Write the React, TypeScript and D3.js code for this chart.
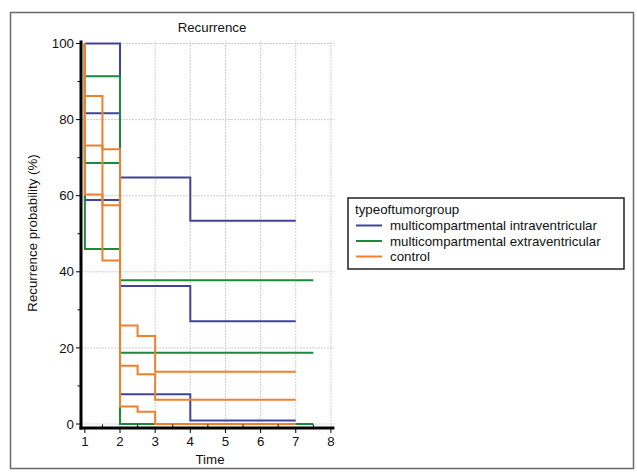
import React from "react";
import * as d3 from "d3";

// ---------- data ----------
const chartTitle = "Recurrence";
const xTitle = "Time";
const yTitle = "Recurrence probability (%)";
const legendTitle = "typeoftumorgroup";
const groupNames = [
  "multicompartmental intraventricular",
  "multicompartmental extraventricular",
  "control",
];
const groupColors = ["#42429c", "#1c8a3c", "#f0802c"];

const xTicks = [1, 2, 3, 4, 5, 6, 7, 8];
const xMinorTicks = [1.5, 2.5, 3.5, 4.5, 5.5, 6.5, 7.5];
const yTicks = [0, 20, 40, 60, 80, 100];
const yMinorTicks = [10, 30, 50, 70, 90];

const startValue = 100;

// multicompartmental intraventricular
const intraTimes = [1, 2, 4, 7];
const intraUpper = [100, 64.8, 53.4, 53.4];
const intraEst = [81.7, 36.3, 27, 27];
const intraLower = [58.9, 7.8, 0.9, 0.9];

// multicompartmental extraventricular
const extraTimes = [1, 2, 7.5];
const extraUpper = [91.4, 37.8, 37.8];
const extraEst = [68.6, 18.7, 18.7];
const extraLower = [46, 0, 0];

// control
const controlTimes = [1, 1.5, 2, 2.5, 3, 7];
const controlUpper = [86.2, 72.2, 25.9, 23.1, 13.7, 13.7];
const controlEst = [73.2, 57.5, 15.3, 13.1, 6.4, 6.4];
const controlLower = [60.3, 43, 4.6, 3.2, 0, 0];

const groups = [
  { times: intraTimes, curves: [intraUpper, intraEst, intraLower] },
  { times: extraTimes, curves: [extraUpper, extraEst, extraLower] },
  { times: controlTimes, curves: [controlUpper, controlEst, controlLower] },
];

// ---------- layout ----------
const W = 637;
const H = 472;
const FONT = "'Liberation Sans', Arial, Helvetica, sans-serif";
const FS = 13.3;

export default function App() {
  const x = d3.scaleLinear().domain([0.89, 8.1]).range([81, 334.4]);
  const y = d3.scaleLinear().domain([0, 100]).range([424, 43.5]);
  const yAxisBottom = y(-1.05);
  const yAxisTop = y(100.8);
  const xLeft = x(0.89);
  const xRight = x(8.1);

  const line = d3
    .line<[number, number]>()
    .x((d) => x(d[0]))
    .y((d) => y(d[1]))
    .curve(d3.curveStepAfter);

  const legend = { x: 348, y: 198, w: 276, h: 71 };
  const rowY = [225.5, 241, 256.5];

  return (
    <svg
      width={W}
      height={H}
      style={{ position: "absolute", left: 0, top: 0, background: "#fff" }}
      fontFamily={FONT}
    >
      <rect x={0} y={0} width={W} height={H} fill="#fff" />
      {/* outer frame */}
      <rect x={10.5} y={12.5} width={623} height={456} fill="#fff" stroke="#6a6a6a" strokeWidth={1.5} />

      {/* title */}
      <text x={212} y={32} fontSize={FS} textAnchor="middle" fill="#111">
        {chartTitle}
      </text>

      {/* grid */}
      <g stroke="#cfcfcf" strokeWidth={1} strokeDasharray="2 1">
        {yTicks.map((t) => (
          <line key={"gy" + t} x1={xLeft} x2={xRight} y1={y(t)} y2={y(t)} />
        ))}
        {xTicks.filter((t) => t > 1).map((t) => (
          <line key={"gx" + t} x1={x(t)} x2={x(t)} y1={yAxisBottom} y2={yAxisTop} />
        ))}
      </g>

      {/* curves */}
      {groups.map((g, gi) => (
        <g key={"g" + gi} fill="none" stroke={groupColors[gi]} strokeWidth={2}>
          {g.curves.map((vals, ci) => {
            const pts: [number, number][] = [[g.times[0], startValue]];
            g.times.forEach((t, i) => pts.push([t, vals[i]]));
            return <path key={ci} d={line(pts) || ""} />;
          })}
        </g>
      ))}

      {/* axes */}
      <g stroke="#000">
        <line x1={xLeft} x2={xLeft} y1={yAxisTop} y2={yAxisBottom + 1.5} strokeWidth={3} />
        <line x1={xLeft - 1.5} x2={xRight} y1={yAxisBottom} y2={yAxisBottom} strokeWidth={3} />
        {yTicks.map((t) => (
          <line key={"ty" + t} x1={xLeft - 5} x2={xLeft} y1={y(t)} y2={y(t)} strokeWidth={1} />
        ))}
        {yMinorTicks.map((t) => (
          <line key={"tym" + t} x1={xLeft - 3.5} x2={xLeft} y1={y(t)} y2={y(t)} strokeWidth={1} />
        ))}
        {xTicks.map((t) => (
          <line key={"tx" + t} x1={x(t)} x2={x(t)} y1={yAxisBottom} y2={yAxisBottom + 5} strokeWidth={1} />
        ))}
        {xMinorTicks.map((t) => (
          <line key={"txm" + t} x1={x(t)} x2={x(t)} y1={yAxisBottom - 3.5} y2={yAxisBottom} strokeWidth={1} />
        ))}
      </g>

      {/* tick labels */}
      <g fontSize={FS} fill="#111">
        {yTicks.map((t) => (
          <text key={"ly" + t} x={xLeft - 7} y={y(t) + 4.6} textAnchor="end">
            {t}
          </text>
        ))}
        {xTicks.map((t) => (
          <text key={"lx" + t} x={x(t)} y={446} textAnchor="middle">
            {t}
          </text>
        ))}
      </g>

      {/* axis titles */}
      <text x={210} y={464} fontSize={FS} textAnchor="middle" fill="#111">
        {xTitle}
      </text>
      <text
        transform={`translate(37,233) rotate(-90)`}
        fontSize={FS}
        textAnchor="middle"
        fill="#111"
      >
        {yTitle}
      </text>

      {/* legend */}
      <rect
        x={legend.x}
        y={legend.y}
        width={legend.w}
        height={legend.h}
        fill="#fff"
        stroke="#222"
        strokeWidth={1.5}
      />
      <text x={355} y={214} fontSize={FS} fill="#111">
        {legendTitle}
      </text>
      {groupNames.map((n, i) => (
        <g key={"lg" + i}>
          <line x1={356} x2={382} y1={rowY[i]} y2={rowY[i]} stroke={groupColors[i]} strokeWidth={2} />
          <text x={390} y={rowY[i] + 4.6} fontSize={FS} fill="#111">
            {n}
          </text>
        </g>
      ))}
    </svg>
  );
}
